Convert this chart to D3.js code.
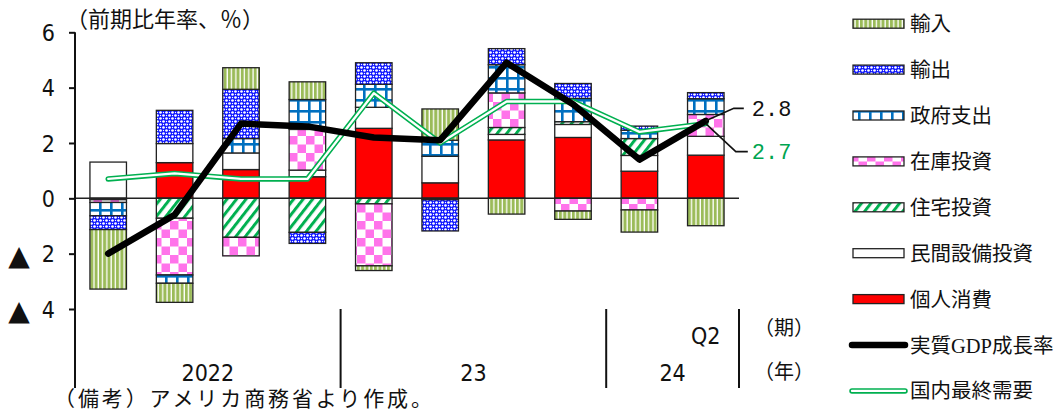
<!DOCTYPE html>
<html>
<head>
<meta charset="utf-8">
<script src="https://cdn.jsdelivr.net/npm/d3@7"></script>
<style>
  html, body { margin: 0; padding: 0; background: #fff; }
  svg { display: block; }
  .jp { font-family: "Noto Sans CJK JP", "Noto Sans", sans-serif; fill: #111; }
  .num { font-family: "Liberation Sans Narrow", "Arial Narrow", "DejaVu Sans Condensed", "Liberation Sans", sans-serif; font-stretch: condensed; fill: #111; }
</style>
</head>
<body>
<svg id="chart" width="1060" height="412"></svg>
<script>
// Quarters 2022Q1 .. 2024Q2
const quarters = ["2022Q1","2022Q2","2022Q3","2022Q4","2023Q1","2023Q2","2023Q3","2023Q4","2024Q1","2024Q2"];
const quarterTicks = ["","","","","","","","","","Q2"];
const yearLabels = ["2022","23","24"];
const yTicks = [-4, -2, 0, 2, 4, 6];

// Contributions to real GDP growth (annualised q/q, %pt)
const consumption   = [0.00, 1.29, 1.04, 0.78, 2.53, 0.56, 2.11, 2.20, 0.98, 1.56];
const businessInv   = [1.31, 0.69, 0.60, 0.24, 0.76, 0.96, 0.20, 0.47, 0.57, 0.68];
const residential   = [-0.05, -0.72, -1.41, -1.23, -0.20, -0.05, 0.25, 0.10, 0.61, 0.00];
const inventories   = [-0.10, -2.05, -0.67, 1.47, -2.24, 0.00, 1.25, -0.46, -0.42, 0.79];
const government    = [-0.48, -0.30, 0.52, 1.08, 0.83, 0.58, 1.02, 0.84, 0.30, 0.57];
const exportsC      = [-0.50, 1.20, 1.78, -0.40, 0.78, -1.13, 0.58, 0.54, 0.15, 0.22];
const importsC      = [-2.15, -0.69, 0.78, 0.64, -0.17, 1.13, -0.57, -0.30, -0.80, -0.99];

// Lines
const gdpGrowth      = [-2.0, -0.6, 2.7, 2.6, 2.2, 2.1, 4.9, 3.4, 1.4, 2.8];
const domesticDemand = [0.7, 0.9, 0.7, 0.7, 3.8, 2.0, 3.5, 3.5, 2.4, 2.7];

const seriesNames = ["個人消費","民間設備投資","住宅投資","在庫投資","政府支出","輸出","輸入"];
const seriesValues = [consumption, businessInv, residential, inventories, government, exportsC, importsC];
const seriesFill = ["#ff0000", "#ffffff", "url(#pResid)", "url(#pInv)", "url(#pGov)", "url(#pExp)", "url(#pImp)"];

const svg = d3.select("#chart");

// ---- fill patterns ----
const defs = svg.append("defs");
{
  // imports: olive vertical stripes
  const p = defs.append("pattern").attr("id", "pImp").attr("patternUnits", "userSpaceOnUse")
    .attr("width", 4.3).attr("height", 10);
  p.append("rect").attr("width", 4.3).attr("height", 10).attr("fill", "#fff");
  p.append("rect").attr("width", 3.0).attr("height", 10).attr("fill", "#9bbb59");
}
{
  // exports: blue with white dots
  const p = defs.append("pattern").attr("id", "pExp").attr("patternUnits", "userSpaceOnUse")
    .attr("width", 6).attr("height", 6);
  p.append("rect").attr("width", 6).attr("height", 6).attr("fill", "#0a12ff");
  [[1.5,1.5,1.35],[4.5,4.5,1.35],[1.5,4.5,0.7],[4.5,1.5,0.7]].forEach(([cx,cy,r]) =>
    p.append("circle").attr("cx", cx).attr("cy", cy).attr("r", r).attr("fill", "#fff"));
}
{
  // government: blue grid
  const s = 11, w = 2.6;
  const p = defs.append("pattern").attr("id", "pGov").attr("patternUnits", "userSpaceOnUse")
    .attr("width", s).attr("height", s);
  p.append("rect").attr("width", s).attr("height", s).attr("fill", "#fff");
  p.append("rect").attr("width", s).attr("height", w).attr("fill", "#0070c0");
  p.append("rect").attr("width", w).attr("height", s).attr("fill", "#0070c0");
}
{
  // inventories: pink checkerboard
  const s = 8.5;
  const p = defs.append("pattern").attr("id", "pInv").attr("patternUnits", "userSpaceOnUse")
    .attr("width", s * 2).attr("height", s * 2);
  p.append("rect").attr("width", s * 2).attr("height", s * 2).attr("fill", "#fff");
  p.append("rect").attr("width", s).attr("height", s).attr("fill", "#ff73ea");
  p.append("rect").attr("x", s).attr("y", s).attr("width", s).attr("height", s).attr("fill", "#ff73ea");
}
{
  // residential: green upward diagonal stripes
  const p = defs.append("pattern").attr("id", "pResid").attr("patternUnits", "userSpaceOnUse")
    .attr("width", 7.5).attr("height", 10).attr("patternTransform", "rotate(38)");
  p.append("rect").attr("width", 7.5).attr("height", 10).attr("fill", "#fff");
  p.append("rect").attr("width", 3.0).attr("height", 10).attr("fill", "#00b050");
}

// ---- scales ----
const x = d3.scaleBand().domain(quarters).range([75, 739]).paddingInner(0.45).paddingOuter(0.225);
const y = d3.scaleLinear().domain([-4, 6]).range([309, 32.3]);
const xc = q => x(q) + x.bandwidth() / 2;
const axisBottom = 388;

// ---- stacked bars ----
const rows = quarters.map((q, i) => {
  const r = { q };
  seriesNames.forEach((n, k) => r[n] = seriesValues[k][i]);
  return r;
});
const stacked = d3.stack().keys(seriesNames).offset(d3.stackOffsetDiverging)(rows);

const barG = svg.append("g");
stacked.forEach((layer, k) => {
  barG.append("g")
    .selectAll("rect")
    .data(layer.filter(d => d[1] !== d[0]))
    .join("rect")
    .attr("x", d => x(d.data.q))
    .attr("width", x.bandwidth())
    .attr("y", d => y(Math.max(d[0], d[1])))
    .attr("height", d => Math.abs(y(d[0]) - y(d[1])))
    .attr("fill", seriesFill[k])
    .attr("stroke", "#222")
    .attr("stroke-width", 1.3);
});

// ---- axes ----
// zero line
svg.append("line")
  .attr("x1", 75).attr("x2", x.range()[1])
  .attr("y1", y(0)).attr("y2", y(0))
  .attr("stroke", "#222").attr("stroke-width", 1.5);

const yAxis = svg.append("g").attr("transform", "translate(75,0)")
  .call(d3.axisLeft(y).tickValues(yTicks).tickSize(6).tickPadding(14)
    .tickFormat(d => Math.abs(d)));
yAxis.select(".domain").remove();
yAxis.selectAll(".tick line").attr("stroke", "#111").attr("stroke-width", 2);
yAxis.selectAll(".tick text").attr("class", "num").attr("font-size", 23).attr("dy", "0.36em");
yAxis.selectAll(".tick").filter(d => d < 0)
  .append("text")
  .attr("x", -56).attr("dy", "0.38em")
  .attr("text-anchor", "middle")
  .attr("font-family", "DejaVu Sans, sans-serif")
  .attr("font-size", 28).attr("fill", "#111")
  .text("▲");

// vertical axis line, down through the category area
svg.append("line").attr("x1", 75).attr("x2", 75)
  .attr("y1", y(6)).attr("y2", axisBottom)
  .attr("stroke", "#111").attr("stroke-width", 2);

// quarter labels
svg.append("g").selectAll("text")
  .data(quarters.map((q, i) => ({ q, t: quarterTicks[i] })).filter(d => d.t))
  .join("text")
  .attr("class", "num").attr("font-size", 23)
  .attr("text-anchor", "middle")
  .attr("x", d => xc(d.q)).attr("y", 344)
  .text(d => d.t);

// year groups and separators
const yearGroups = d3.groups(quarters, q => q.slice(0, 4));
const step = x.step();
const gap = (step - x.bandwidth()) / 2;
yearGroups.forEach(([yr, qs], i) => {
  const left = x(qs[0]) - gap;
  const right = x(qs[qs.length - 1]) + x.bandwidth() + gap;
  svg.append("text").attr("class", "num").attr("font-size", 23)
    .attr("text-anchor", "middle")
    .attr("x", (left + right) / 2).attr("y", 381)
    .text(yearLabels[i]);
  svg.append("line").attr("x1", right).attr("x2", right)
    .attr("y1", y(-4)).attr("y2", axisBottom)
    .attr("stroke", "#111").attr("stroke-width", 2);
});

svg.append("text").attr("class", "jp").attr("font-size", 20)
  .attr("text-anchor", "middle").attr("x", 784).attr("y", 335).text("（期）");
svg.append("text").attr("class", "jp").attr("font-size", 20)
  .attr("text-anchor", "middle").attr("x", 784).attr("y", 379).text("（年）");

// ---- lines ----
const lineGen = d3.line().x((d, i) => xc(quarters[i])).y(d => y(d));

// final domestic demand: green double line
svg.append("path").datum(domesticDemand).attr("d", lineGen)
  .attr("fill", "none").attr("stroke", "#00b050").attr("stroke-width", 5.5)
  .attr("stroke-linejoin", "round").attr("stroke-linecap", "round");
svg.append("path").datum(domesticDemand).attr("d", lineGen)
  .attr("fill", "none").attr("stroke", "#ffffff").attr("stroke-width", 2.3)
  .attr("stroke-linejoin", "round").attr("stroke-linecap", "round");

// real GDP growth: thick black line
svg.append("path").datum(gdpGrowth).attr("d", lineGen)
  .attr("fill", "none").attr("stroke", "#000").attr("stroke-width", 6.5)
  .attr("stroke-linejoin", "round").attr("stroke-linecap", "round");

// ---- latest-value callouts ----
const last = quarters.length - 1;
const lx = xc(quarters[last]);
const fmt = d3.format(".1f");
{
  const gy = y(gdpGrowth[last]);
  svg.append("polyline")
    .attr("points", [[lx, gy], [lx + 28, gy - 12.5], [lx + 38, gy - 12.5]].join(" "))
    .attr("fill", "none").attr("stroke", "#111").attr("stroke-width", 1.6);
  svg.append("text").attr("x", lx + 46).attr("y", gy - 5)
    .attr("font-family", "Liberation Mono, DejaVu Sans Mono, monospace")
    .attr("font-size", 22).attr("fill", "#111")
    .text(fmt(gdpGrowth[last]));
}
{
  const dy0 = y(domesticDemand[last]);
  svg.append("polyline")
    .attr("points", [[lx, dy0], [lx + 30, dy0 + 28], [lx + 42, dy0 + 28]].join(" "))
    .attr("fill", "none").attr("stroke", "#111").attr("stroke-width", 1.6);
  svg.append("text").attr("x", lx + 46).attr("y", dy0 + 35)
    .attr("font-family", "Liberation Mono, DejaVu Sans Mono, monospace")
    .attr("font-size", 22).attr("fill", "#00a550")
    .text(fmt(domesticDemand[last]));
}

// ---- title and note ----
svg.append("text").attr("class", "jp").attr("font-size", 22)
  .attr("x", 66).attr("y", 27).text("（前期比年率、％）");
svg.append("text").attr("class", "jp").attr("font-size", 21)
  .attr("x", 54).attr("y", 406)
  .attr("textLength", 378).attr("lengthAdjust", "spacing")
  .text("（備考）アメリカ商務省より作成。");

// ---- legend ----
const legendItems = [
  { name: "輸入", fill: "url(#pImp)" },
  { name: "輸出", fill: "url(#pExp)" },
  { name: "政府支出", fill: "url(#pGov)" },
  { name: "在庫投資", fill: "url(#pInv)" },
  { name: "住宅投資", fill: "url(#pResid)" },
  { name: "民間設備投資", fill: "#ffffff" },
  { name: "個人消費", fill: "#ff0000" },
  { name: "実質GDP成長率", line: "gdp" },
  { name: "国内最終需要", line: "dd" }
];
const lg = svg.append("g");
legendItems.forEach((it, i) => {
  const cy = 23.7 + i * 45.9;
  if (it.line === "gdp") {
    lg.append("line").attr("x1", 852).attr("x2", 905).attr("y1", cy).attr("y2", cy)
      .attr("stroke", "#000").attr("stroke-width", 6.5).attr("stroke-linecap", "round");
  } else if (it.line === "dd") {
    lg.append("line").attr("x1", 852).attr("x2", 905).attr("y1", cy).attr("y2", cy)
      .attr("stroke", "#00b050").attr("stroke-width", 5.5).attr("stroke-linecap", "round");
    lg.append("line").attr("x1", 852).attr("x2", 905).attr("y1", cy).attr("y2", cy)
      .attr("stroke", "#fff").attr("stroke-width", 2.3).attr("stroke-linecap", "round");
  } else {
    lg.append("rect").attr("x", 853).attr("y", cy - 4.5).attr("width", 51).attr("height", 9)
      .attr("fill", it.fill).attr("stroke", "#222").attr("stroke-width", 1.3);
  }
  const t = lg.append("text").attr("class", "jp").attr("font-size", 20.5)
    .attr("x", 910).attr("y", cy + 7.5);
  if (it.name.includes("GDP")) {
    const [a, b] = it.name.split("GDP");
    t.append("tspan").text(a);
    t.append("tspan").attr("font-family", "Liberation Serif, serif").text("GDP");
    t.append("tspan").text(b);
  } else {
    t.text(it.name);
  }
});
</script>
</body>
</html>
